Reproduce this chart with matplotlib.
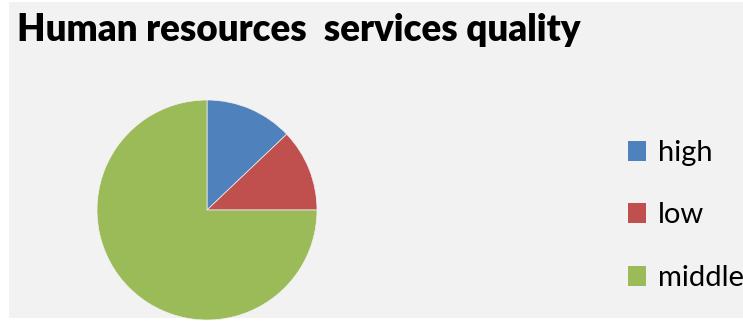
import matplotlib.pyplot as plt
from matplotlib.patches import Rectangle

# data
categories = ['high', 'low', 'middle']
values = [12.9, 12.1, 75.0]
colors = ['#4F81BD', '#C0504D', '#9BBB59']

W, H = 743, 321
fig = plt.figure(figsize=(W / 100, H / 100), dpi=100, facecolor='white')

# grey chart area (white strip on left / bottom like the original)
fig.patches.append(Rectangle((9 / W, 3 / H), 1 - 9 / W, 1 - 5 / H,
                             transform=fig.transFigure, facecolor='#F2F2F2',
                             edgecolor='none', zorder=-5))

fig.text(17 / W, 1 - 41 / H, 'Human resources  services quality',
         fontsize=26.5, fontweight='heavy', family=['Lato', 'DejaVu Sans'],
         color='black', va='baseline', ha='left')

# pie centre ~ (207, 210) px, radius ~110 px
r = 110
ax = fig.add_axes([(207 - r) / W, (H - 210 - r) / H, 2 * r / W, 2 * r / H])
wedges, _ = ax.pie(values, colors=colors, startangle=90, counterclock=False,
                   radius=1, wedgeprops=dict(linewidth=0.5, edgecolor='#F2F2F2'))
ax.set_xlim(-1, 1)
ax.set_ylim(-1, 1)
ax.set_aspect('equal')
ax.axis('off')

leg = fig.legend(wedges, categories, loc='upper left',
                 bbox_to_anchor=(628 / W, 1 - 140 / H), frameon=False,
                 prop=dict(family=['Lato', 'DejaVu Sans'], size=21),
                 handlelength=0.62, handleheight=0.68, handletextpad=0.42,
                 labelspacing=1.25, borderpad=0, borderaxespad=0)
for h in leg.legend_handles:
    h.set_edgecolor('none')

fig.savefig('out.png', dpi=100, facecolor='white')
